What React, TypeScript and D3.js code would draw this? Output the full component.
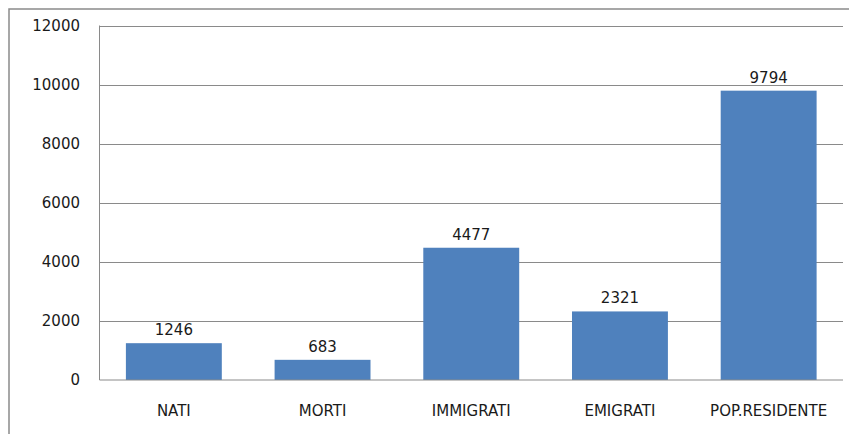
import React from "react";
import * as d3 from "d3";

const categories = ["NATI", "MORTI", "IMMIGRATI", "EMIGRATI", "POP.RESIDENTE"];
const values = [1246, 683, 4477, 2321, 9794];
const yTicks = [0, 2000, 4000, 6000, 8000, 10000, 12000];

const W = 849;
const H = 434;
const left = 99.5;
const right = 843;
const top = 25.5;
const bottom = 380;
const font = "'DejaVu Sans', sans-serif";

export default function App() {
  const x = d3.scaleBand<string>().domain(categories).range([left, right]).paddingInner(0.355).paddingOuter(0.1775);
  const y = d3.scaleLinear().domain([0, 12000]).range([bottom, top]);
  return (
    <svg width={W} height={H} style={{ position: "fixed", left: 0, top: 0 }}>
      <rect x={0} y={0} width={W} height={H} fill="#fff" />
      <rect x={9} y={9} width={W + 10} height={H + 10} fill="none" stroke="#8a8a8a" strokeWidth={1.5} />
      {yTicks.map((t) => (
        <g key={t}>
          {t > 0 && (
            <line x1={left} x2={right} y1={Math.round(y(t)) + 0.5} y2={Math.round(y(t)) + 0.5} stroke="#8a8a8a" strokeWidth={1} />
          )}
          <text x={80} y={y(t)} dy="0.36em" textAnchor="end" fontFamily={font} fontSize={15} fill="#1a1a1a">
            {t}
          </text>
        </g>
      ))}
      {categories.map((c, i) => (
        <g key={c}>
          <rect x={x(c)} y={y(values[i])} width={x.bandwidth()} height={bottom - y(values[i])} fill="#4F81BD" />
          <text x={x(c)! + x.bandwidth() / 2} y={y(values[i]) - 8} textAnchor="middle" fontFamily={font} fontSize={15} fill="#1a1a1a">
            {values[i]}
          </text>
          <text x={x(c)! + x.bandwidth() / 2} y={416} textAnchor="middle" fontFamily={font} fontSize={15} fill="#1a1a1a">
            {c}
          </text>
        </g>
      ))}
      <line x1={left} x2={left} y1={top} y2={bottom} stroke="#8a8a8a" strokeWidth={1} />
      <line x1={left} x2={right} y1={bottom} y2={bottom} stroke="#8a8a8a" strokeWidth={1} />
    </svg>
  );
}
